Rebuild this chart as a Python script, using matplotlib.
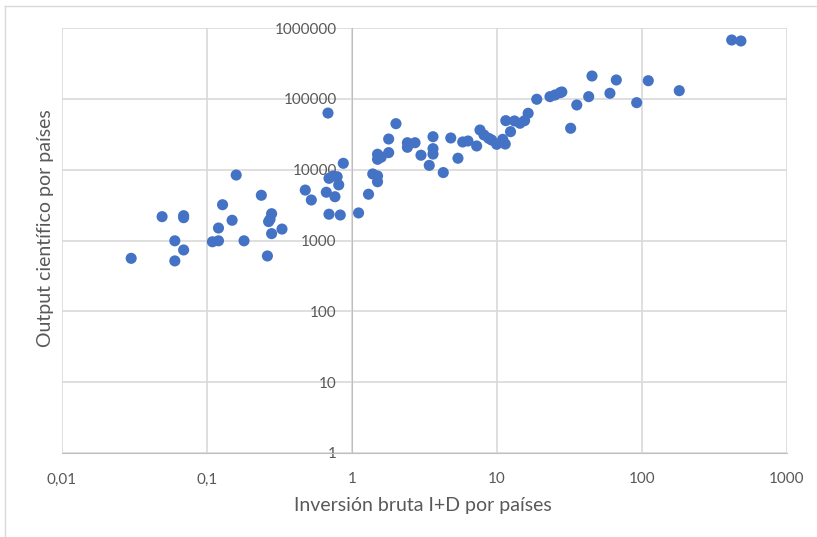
import numpy as np
import matplotlib
matplotlib.use("Agg")
from matplotlib import pyplot as plt
from matplotlib.ticker import FixedLocator, NullLocator, FixedFormatter
from matplotlib.lines import Line2D

# inversion bruta I+D (x) vs output cientifico (y)
inversion = [0.030, 0.049, 0.069, 0.069, 0.060, 0.069, 0.060, 0.109, 0.120, 0.120,
             0.128, 0.149, 0.159, 0.180, 0.237, 0.261, 0.279, 0.272, 0.266, 0.279,
             0.329, 0.476, 0.524, 0.694, 0.665, 0.763, 0.830, 0.871, 0.694, 0.740,
             0.790, 0.810, 0.683, 1.11, 2.01, 1.79, 1.79, 1.50, 1.50, 1.59,
             1.39, 1.50, 1.50, 1.30, 2.41, 2.72, 2.41, 2.99, 3.62, 3.62,
             3.62, 3.41, 4.26, 4.80, 5.38, 5.80, 6.31, 7.24, 7.63, 8.13,
             8.77, 9.19, 9.95, 10.95, 11.4, 11.5, 12.4, 13.2, 14.4, 15.5,
             16.4, 18.8, 23.2, 25.1, 27.2, 28.0, 32.2, 35.5, 42.9, 45.2,
             60.1, 66.5, 91.9, 110.5, 180.7, 415.6, 481.0]
output = [560, 2170, 2240, 2100, 990, 735, 515, 960, 990, 1500,
          3200, 1930, 8400, 990, 4350, 605, 2390, 1990, 1850, 1250,
          1450, 5150, 3730, 2350, 4800, 4150, 2290, 12300, 7550, 8150,
          7950, 6100, 63000, 2450, 44600, 27100, 17400, 16500, 14000, 15000,
          8700, 8150, 6750, 4500, 24000, 24000, 20700, 16000, 29200, 19800,
          16600, 11500, 9100, 28000, 14500, 24600, 25400, 21600, 36300, 30900,
          27700, 26200, 22800, 26800, 23000, 49200, 34400, 48700, 45200, 49200,
          62500, 98600, 107400, 113300, 122000, 125000, 38400, 81900, 107400, 210000,
          119800, 184600, 88300, 180300, 130400, 677000, 655700]

x_ticks = [0.01, 0.1, 1, 10, 100, 1000]
x_labels = ["0,01", "0,1", "1", "10", "100", "1000"]
y_ticks = [1, 10, 100, 1000, 10000, 100000, 1000000]
y_labels = ["1", "10", "100", "1000", "10000", "100000", "1000000"]

plt.rcParams['font.family'] = ['Lato', 'DejaVu Sans']
txt = '#595959'
grid = '#d9d9d9'

fig = plt.figure(figsize=(8.17, 5.37), dpi=100)
ax = fig.add_axes([62/817, 1-453/537, (787-62)/817, (453-28)/537])

ax.scatter(inversion, output, s=64, c='#4472C4', edgecolors='none', zorder=3)

ax.set_xscale('log')
ax.set_yscale('log')
ax.set_xlim(0.01, 1000)
ax.set_ylim(1, 1000000)

ax.xaxis.set_major_locator(FixedLocator(x_ticks))
ax.xaxis.set_major_formatter(FixedFormatter(x_labels))
ax.yaxis.set_major_locator(FixedLocator(y_ticks))
ax.yaxis.set_major_formatter(FixedFormatter(y_labels))
ax.xaxis.set_minor_locator(NullLocator())
ax.yaxis.set_minor_locator(NullLocator())

ax.grid(True, color=grid, linewidth=1.2, zorder=0)
ax.set_axisbelow(True)

ax.spines['left'].set_position(('data', 1))
ax.spines['left'].set_color('#bfbfbf')
ax.spines['bottom'].set_color('#bfbfbf')
ax.spines['top'].set_visible(False)
ax.spines['right'].set_visible(False)

ax.tick_params(axis='both', length=0, labelsize=11, labelcolor=txt)
ax.tick_params(axis='x', pad=14)
ax.tick_params(axis='y', pad=11)

fig.text(423/817, 1-506/537, 'Inversión bruta I+D por países', ha='center', va='center',
         fontsize=14, color=txt)
fig.text(46/817, 1-228/537, 'Output científico por países', ha='center', va='center',
         rotation=90, fontsize=14, color=txt)

# chart area border
fig.add_artist(Line2D([5/817, 5/817], [0, 1-6/537], transform=fig.transFigure, color=grid, lw=1))
fig.add_artist(Line2D([5/817, 1], [1-6/537, 1-6/537], transform=fig.transFigure, color=grid, lw=1))

fig.savefig('out.png', dpi=100)
